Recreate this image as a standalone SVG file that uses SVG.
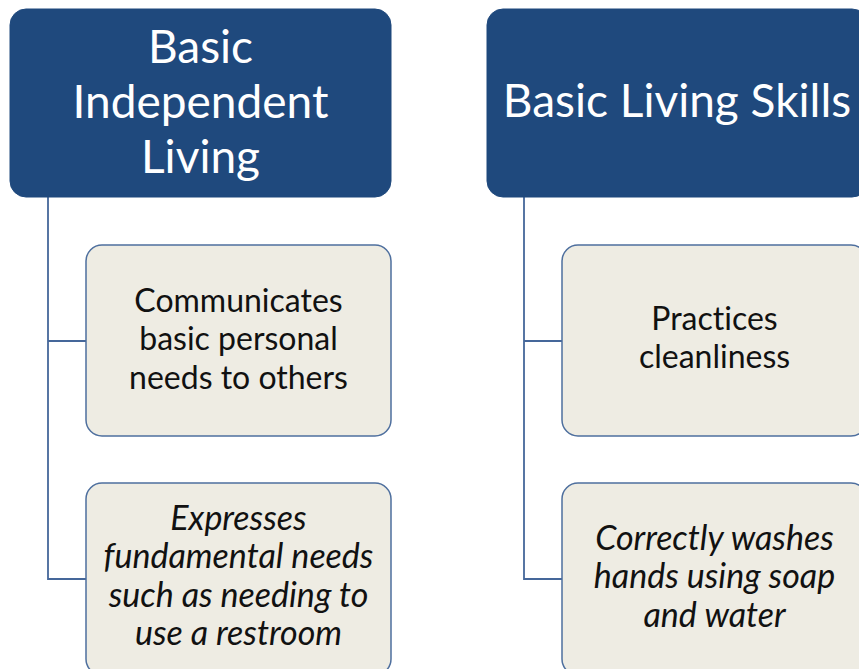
<svg xmlns="http://www.w3.org/2000/svg" width="859" height="669" viewBox="0 0 859 669">
<style>
.hdr{fill:#1F497D;stroke:#1F497D;stroke-width:1}
.child{fill:#EEECE3;stroke:#4E6F9E;stroke-width:1.5}
text{font-variant-ligatures:none;font-feature-settings:"liga" 0,"dlig" 0}
.ht{font-family:Lato,"Open Sans",sans-serif;font-size:46px;fill:#FFFFFF;text-anchor:middle}
.ct{font-family:Lato,"Open Sans",sans-serif;font-size:32px;fill:#111111;text-anchor:middle}
.it{font-style:italic;font-size:34px}
.conn{fill:none;stroke:#45679A;stroke-width:1.8}
</style>
<rect width="859" height="669" fill="#FFFFFF"/>
<g id="connectors">
<path class="conn" d="M48,197 V579 H86 M48,341 H86"/>
<path class="conn" d="M524,197 V579 H562 M524,341 H562"/>
</g>
<g id="node-basic-independent-living">
<rect class="hdr" x="10" y="9" width="381" height="188" rx="16"/>
<text class="ht" x="200.5" y="63">Basic</text>
<text class="ht" x="200.5" y="118">Independent</text>
<text class="ht" x="200.5" y="173">Living</text>
</g>
<g id="node-basic-living-skills">
<rect class="hdr" x="487" y="9" width="381" height="188" rx="16"/>
<text class="ht" x="677" y="117">Basic Living Skills</text>
</g>
<g id="node-communicates">
<rect class="child" x="86" y="245" width="305" height="191" rx="16"/>
<text class="ct" x="238.5" y="312">Communicates</text>
<text class="ct" x="238.5" y="350">basic personal</text>
<text class="ct" x="238.5" y="389">needs to others</text>
</g>
<g id="node-expresses">
<rect class="child" x="86" y="483" width="305" height="192" rx="16"/>
<text class="ct it" x="238.5" y="530">Expresses</text>
<text class="ct it" x="238.5" y="568">fundamental needs</text>
<text class="ct it" x="238.5" y="607">such as needing to</text>
<text class="ct it" x="238.5" y="645">use a restroom</text>
</g>
<g id="node-practices">
<rect class="child" x="562" y="245" width="305" height="191" rx="16"/>
<text class="ct" x="714.5" y="330">Practices</text>
<text class="ct" x="714.5" y="368">cleanliness</text>
</g>
<g id="node-washes">
<rect class="child" x="562" y="483" width="305" height="192" rx="16"/>
<text class="ct it" x="714.5" y="550">Correctly washes</text>
<text class="ct it" x="714.5" y="588">hands using soap</text>
<text class="ct it" x="714.5" y="627">and water</text>
</g>
</svg>
